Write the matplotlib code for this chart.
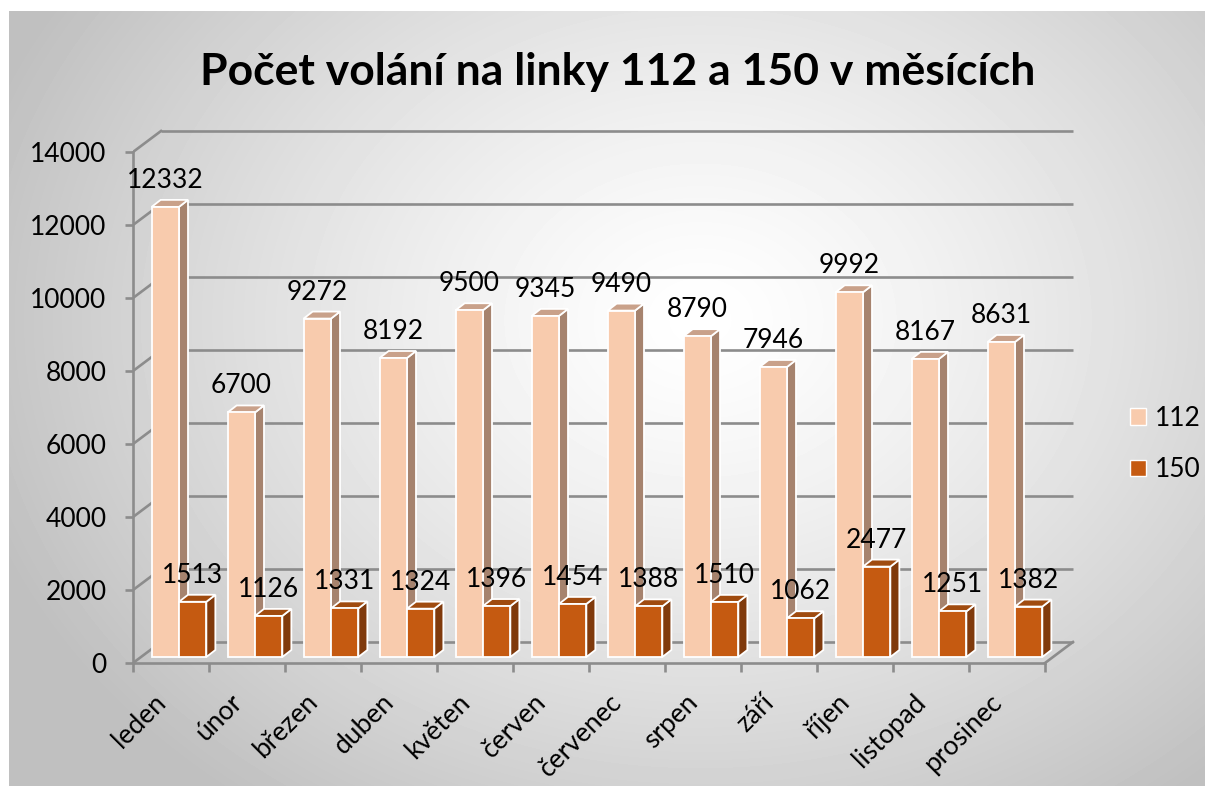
import numpy as np
import matplotlib
matplotlib.use("Agg")
import matplotlib.pyplot as plt
from matplotlib.patches import Polygon, Patch

plt.rcParams['font.family'] = ['Lato', 'DejaVu Sans']

months = ["leden", "únor", "březen", "duben", "květen", "červen",
          "červenec", "srpen", "září", "říjen", "listopad", "prosinec"]
calls_112 = [12332, 6700, 9272, 8192, 9500, 9345, 9490, 8790, 7946, 9992, 8167, 8631]
calls_150 = [1513, 1126, 1331, 1324, 1396, 1454, 1388, 1510, 1062, 2477, 1251, 1382]
series = ["112", "150"]
yticks = list(range(0, 14001, 2000))
title = "Počet volání na linky 112 a 150 v měsících"

# colours: front, side, top
col_112 = ("#F8CBAD", "#A6836E", "#C9A18A")
col_150 = ("#C55A11", "#803A0C", "#A04B0F")
grid_c = "#8c8c8c"
FS = 19

W, H = 1205, 786
fig = plt.figure(figsize=(W / 100, H / 100), dpi=100)

# gradient background
bg = fig.add_axes([9 / W, 0, 1 - 9 / W, (H - 11) / H])
bg.axis('off')
yy, xx = np.mgrid[11:H, 9:W]
d = np.hypot(xx - 700, (yy - 320) * 1.25)
img = 1 - 0.25 * np.clip(d / 760, 0, 1) ** 1.3
bg.imshow(img, cmap='gray', vmin=0, vmax=1, aspect='auto', interpolation='bilinear')

# main axes: 1 category = 76 px, 14000 = 511 px
XU = 76.0
YU = 511.0 / 14000
left_px, right_px, bot_px, top_px = 133, 1078, H - 663, H - 118
ax = fig.add_axes([left_px / W, bot_px / H, (right_px - left_px) / W, (top_px - bot_px) / H])
ax.set_xlim(0, (right_px - left_px) / XU)
ax.set_ylim(0, (top_px - bot_px) / YU)
ax.patch.set_alpha(0)

def px_x(p):
    return p / XU

def px_y(p):
    return p / YU

n = len(months)
WX, WY = px_x(28), px_y(21)   # back wall offset
BX, BY = px_x(8), px_y(6)     # bar front plane offset
DX, DY = px_x(9), px_y(7)     # bar depth

# back wall grid + side wall diagonals
for v in yticks:
    ax.plot([WX, n + WX], [v + WY, v + WY], color=grid_c, lw=1.9, zorder=1, solid_capstyle='butt')
    ax.plot([0, WX], [v, v + WY], color=grid_c, lw=1.9, zorder=1)
ax.plot([n, n + WX], [0, WY], color=grid_c, lw=1.9, zorder=1)

bw = 0.36
def bar3d(x, v, cols, z):
    xl = x + BX
    xr = xl + bw
    yb = BY
    yt = BY + v
    side = [(xr, yb), (xr + DX, yb + DY), (xr + DX, yt + DY), (xr, yt)]
    top = [(xl, yt), (xr, yt), (xr + DX, yt + DY), (xl + DX, yt + DY)]
    front = [(xl, yb), (xr, yb), (xr, yt), (xl, yt)]
    for poly, c in ((side, cols[1]), (top, cols[2]), (front, cols[0])):
        ax.add_patch(Polygon(poly, closed=True, facecolor=c, edgecolor='white', lw=1.3, zorder=z))
    ax.text(xl + bw / 2, yt + DY + px_y(12), f"{v}", ha='center', va='baseline',
            fontsize=FS, color='black', zorder=50)

z = 2
for i in range(n):
    bar3d(i + 0.14, calls_112[i], col_112, z)
    bar3d(i + 0.50, calls_150[i], col_150, z + 1)
    z += 2

# axes lines and ticks
for s in ['top', 'right']:
    ax.spines[s].set_visible(False)
for s in ['left', 'bottom']:
    ax.spines[s].set_color(grid_c)
    ax.spines[s].set_linewidth(1.9)
ax.spines['left'].set_bounds(0, 14000)
ax.spines['bottom'].set_bounds(0, n)

ax.set_yticks(yticks)
ax.set_yticklabels([str(t) for t in yticks], fontsize=FS)
ax.tick_params(axis='y', length=6, width=1.9, color=grid_c, pad=13)

ax.set_xticks(range(n + 1))
ax.set_xticklabels([])
ax.tick_params(axis='x', which='major', length=6.5, width=1.9, color=grid_c)
ax.set_xticks(np.arange(n) + 0.5, minor=True)
ax.set_xticklabels(months, minor=True, rotation=45, ha='right', va='top', fontsize=FS)
ax.tick_params(axis='x', which='minor', length=0, pad=19)

fig.text(618 / W, 1 - 72 / H, title, ha='center', va='center', fontsize=32, fontweight='bold')

handles = [Patch(facecolor=col_112[0], edgecolor='white'), Patch(facecolor=col_150[0], edgecolor='white')]
fig.legend(handles, series, loc='center left', bbox_to_anchor=(1130 / W, 1 - 444 / H),
           frameon=False, fontsize=FS, handlelength=0.6, handleheight=0.6,
           handletextpad=0.35, labelspacing=1.0, borderaxespad=0, borderpad=0)

fig.savefig("out.png", dpi=100)
